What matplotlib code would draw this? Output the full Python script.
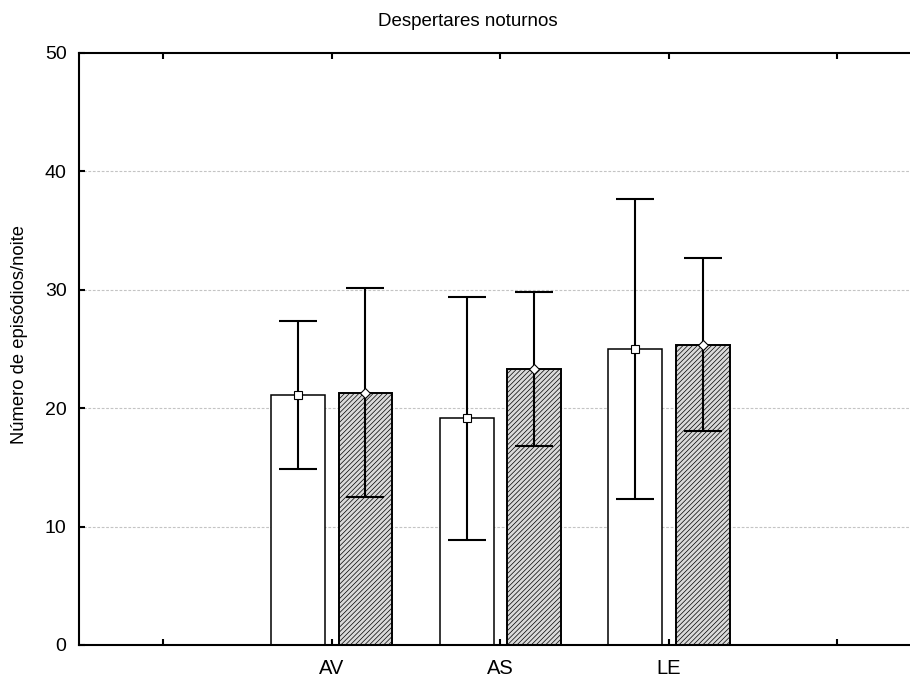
import matplotlib
matplotlib.use("Agg")
import matplotlib.pyplot as plt
import numpy as np

plt.rcParams['font.family'] = ['Liberation Sans', 'DejaVu Sans']
plt.rcParams['hatch.linewidth'] = 0.5
plt.rcParams['hatch.color'] = "#8c8c8c"

# Group means and standard deviations (night awakenings per night)
categories = ["AV", "AS", "LE"]
mean_a = [21.1, 19.15, 25.0]
sd_a = [6.25, 10.27, 12.64]
mean_b = [21.3, 23.3, 25.35]
sd_b = [8.83, 6.47, 7.3]

title = "Despertares noturnos"
ylabel = "Número de episódios/noite"
yticks = [0, 10, 20, 30, 40, 50]

fig = plt.figure(figsize=(9.10, 6.79), dpi=100)
ax = fig.add_axes([0.0868, 0.0501, 0.926, 0.8719])

pos = np.arange(1, len(categories) + 1)
offset = 0.2
width = 0.32

ax.bar(pos - offset, mean_a, width, facecolor="white", edgecolor="black",
       linewidth=1.1, zorder=2)
ax.bar(pos + offset, mean_b, width, facecolor="#dadada", edgecolor="black",
       hatch="///////", linewidth=1.4, zorder=2)

ax.errorbar(pos - offset, mean_a, yerr=sd_a, fmt="none", ecolor="black",
            elinewidth=1.5, capsize=14, capthick=1.5, zorder=3)
ax.errorbar(pos + offset, mean_b, yerr=sd_b, fmt="none", ecolor="black",
            elinewidth=1.5, capsize=14, capthick=1.5, zorder=3)
ax.plot(pos - offset, mean_a, linestyle="none", marker="s", markersize=6,
        markerfacecolor="white", markeredgecolor="black", markeredgewidth=0.8,
        zorder=4)
ax.plot(pos + offset, mean_b, linestyle="none", marker="D", markersize=5,
        markerfacecolor="white", markeredgecolor="black", markeredgewidth=0.8,
        zorder=4)

ax.set_xlim(-0.5, 4.5)
ax.set_ylim(0, 50)
ax.set_xticks(np.arange(0, 5))
ax.set_xticklabels([""] + categories + [""])
ax.set_yticks(yticks)
ax.set_yticklabels([str(v) for v in yticks])

for v in yticks[1:-1]:
    ax.axhline(v, color="#c4c4c4", linestyle=(0, (2.5, 1.5)), linewidth=0.8,
               zorder=1)

for s in ax.spines.values():
    s.set_linewidth(1.5)
ax.tick_params(direction="in", length=4, width=1.5, labelsize=14,
               top=True, right=True, pad=9)
ax.tick_params(axis="x", labelsize=14.5, pad=10)

fig.text(468 / 910, 1 - 22 / 679, title, fontsize=13.5, ha="center",
         va="center")
fig.text(20 / 910, 1 - 335 / 679, ylabel, fontsize=13.2, rotation=90,
         ha="center", va="center")

fig.savefig("out.png", dpi=100)
